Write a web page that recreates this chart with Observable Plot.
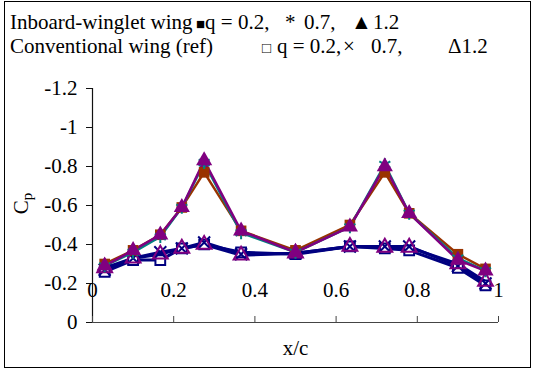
<!DOCTYPE html>
<html>
<head>
<meta charset="utf-8">
<script src="https://cdn.jsdelivr.net/npm/d3@7"></script>
<script src="https://cdn.jsdelivr.net/npm/@observablehq/plot@0.6"></script>
<style>
  html, body { margin: 0; padding: 0; background: #fff; }
  #wrap { position: relative; width: 533px; height: 371px; overflow: hidden; font-family: "Liberation Serif", "Times New Roman", serif; color: #000; }
  #frame { position: absolute; left: 4px; top: 1px; width: 527px; height: 367px; border: 1.5px solid #000; box-sizing: border-box; }
  .t { position: absolute; font-size: 21px; white-space: pre; line-height: 24px; }
  .l1 { top: 10px; }
  .l2 { top: 34px; }
  .sym { font-size: 15px; }
  #cp { position: absolute; left: 4px; top: 190px; width: 36px; text-align: center; font-size: 21px; transform: rotate(-90deg); transform-origin: center; }
  #cp sub { font-size: 15px; vertical-align: -4px; }
  #chart { position: absolute; left: 0; top: 0; }
</style>
</head>
<body>
<div id="wrap">
  <div id="frame"></div>
  <div class="t l1" style="left:10px">Inboard-winglet wing</div>
  <div class="t l1" style="left:196px"><span class="sym">■</span>q = 0.2,</div>
  <div class="t l1" style="left:285px">*</div>
  <div class="t l1" style="left:304px">0.7,</div>
  <div class="t l1" style="left:351px">▲</div>
  <div class="t l1" style="left:373px">1.2</div>
  <div class="t l2" style="left:10px">Conventional wing (ref)</div>
  <div class="t l2" style="left:262px"><span class="sym">□</span></div>
  <div class="t l2" style="left:277px">q = 0.2,</div>
  <div class="t l2" style="left:343px">×</div>
  <div class="t l2" style="left:371px">0.7,</div>
  <div class="t l2" style="left:448px">Δ1.2</div>
  <div id="cp">C<sub>p</sub></div>
  <div id="chart"></div>
</div>
<script>
// chordwise stations x/c
const xc = [0.03, 0.1, 0.167, 0.22, 0.275, 0.366, 0.5, 0.634, 0.72, 0.78, 0.9, 0.968];

// Inboard-winglet wing
const wingQ02 = [-0.30, -0.37, -0.45, -0.59, -0.77, -0.47, -0.37, -0.50, -0.77, -0.56, -0.35, -0.275];
const wingQ07 = [-0.29, -0.36, -0.44, -0.59, -0.82, -0.46, -0.36, -0.49, -0.81, -0.56, -0.33, -0.265];
const wingQ12 = [-0.29, -0.37, -0.45, -0.59, -0.83, -0.47, -0.36, -0.49, -0.80, -0.56, -0.32, -0.265];

// Conventional wing (ref)
const convQ02 = [-0.26, -0.32, -0.32, -0.38, -0.40, -0.36, -0.35, -0.39, -0.38, -0.37, -0.28, -0.19];
const convQ07 = [-0.27, -0.33, -0.36, -0.38, -0.41, -0.35, -0.355, -0.39, -0.39, -0.39, -0.29, -0.20];
const convQ12 = [-0.28, -0.33, -0.35, -0.38, -0.40, -0.345, -0.355, -0.39, -0.385, -0.385, -0.30, -0.21];

const xTicks = [0, 0.2, 0.4, 0.6, 0.8, 1];
const xTickLabels = ["0", "0.2", "0.4", "0.6", "0.8", "1"];
const yTicks = [0, -0.2, -0.4, -0.6, -0.8, -1, -1.2];
const yTickLabels = ["0", "-0.2", "-0.4", "-0.6", "-0.8", "-1", "-1.2"];

const rows = (vals) => xc.map((x, i) => ({x, cp: vals[i]}));

const BROWN = "#993300", TEAL = "#008080", PURPLE = "#800080", NAVY = "#000080";

const chart = Plot.plot({
  width: 533,
  height: 371,
  marginTop: 88,
  marginBottom: 49,
  marginLeft: 92,
  marginRight: 35,
  style: {fontFamily: "Liberation Serif, Times New Roman, serif", fontSize: "21px", background: "transparent", color: "#000"},
  x: {domain: [0, 1]},
  y: {domain: [0, -1.2]},
  marks: [
    Plot.ruleY([0], {stroke: "#444", strokeWidth: 1.2}),
    Plot.ruleX([0], {stroke: "#111", strokeWidth: 1.2}),
    Plot.axisY({ticks: yTicks, tickFormat: d => yTickLabels[yTicks.indexOf(d)], tickSize: 6, tickPadding: 9, label: null, stroke: "#111", fontSize: 21}),
    Plot.axisX({ticks: xTicks, tickFormat: d => xTickLabels[xTicks.indexOf(d)], tickSize: -6, tickPadding: -34, label: null, stroke: "#444", fontSize: 21}),
    // conventional wing
    Plot.line(rows(convQ02), {x: "x", y: "cp", stroke: NAVY, strokeWidth: 3}),
    Plot.line(rows(convQ07), {x: "x", y: "cp", stroke: NAVY, strokeWidth: 3}),
    Plot.line(rows(convQ12), {x: "x", y: "cp", stroke: NAVY, strokeWidth: 3}),
    Plot.dot(rows(convQ02), {x: "x", y: "cp", symbol: "square", r: 5.5, fill: "white", stroke: NAVY, strokeWidth: 2}),
    Plot.dot(rows(convQ07), {x: "x", y: "cp", symbol: "times", r: 5.5, stroke: NAVY, strokeWidth: 2}),
    Plot.dot(rows(convQ12), {x: "x", y: "cp", symbol: "triangle", r: 5.5, fill: "none", stroke: PURPLE, strokeWidth: 2}),
    // inboard-winglet wing
    Plot.line(rows(wingQ02), {x: "x", y: "cp", stroke: BROWN, strokeWidth: 2.5}),
    Plot.line(rows(wingQ07), {x: "x", y: "cp", stroke: TEAL, strokeWidth: 2.5}),
    Plot.line(rows(wingQ12), {x: "x", y: "cp", stroke: PURPLE, strokeWidth: 2.5}),
    Plot.dot(rows(wingQ02), {x: "x", y: "cp", symbol: "square", r: 6, fill: BROWN}),
    Plot.dot(rows(wingQ07), {x: "x", y: "cp", symbol: "asterisk", r: 6, stroke: TEAL, strokeWidth: 2}),
    Plot.dot(rows(wingQ12), {x: "x", y: "cp", symbol: "triangle", r: 6, fill: PURPLE}),
    Plot.text(["x/c"], {frameAnchor: "bottom", dy: 32, fontSize: 21})
  ]
});
document.getElementById("chart").appendChild(chart);
</script>
</body>
</html>
